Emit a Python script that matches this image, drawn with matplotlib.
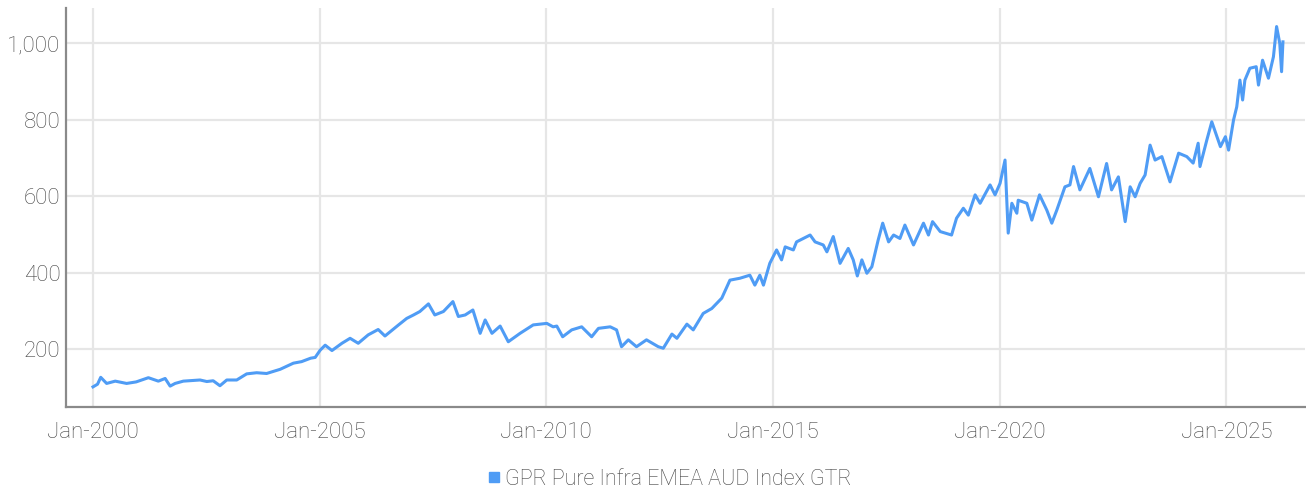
import matplotlib
matplotlib.use("Agg")
import matplotlib.pyplot as plt
import matplotlib.dates as mdates
from matplotlib.lines import Line2D
from matplotlib.ticker import FuncFormatter
import pandas as pd
import numpy as np

# ---- data (decimal year, index level) ----
years = [
    2000.00, 2000.10, 2000.17, 2000.30, 2000.49, 2000.74, 2000.95, 2001.05, 2001.22, 2001.44,
    2001.59, 2001.70, 2001.81, 2001.99, 2002.36, 2002.51, 2002.65, 2002.80, 2002.95, 2003.17,
    2003.39, 2003.61, 2003.83, 2004.13, 2004.42, 2004.60, 2004.80, 2004.90, 2005.01, 2005.12,
    2005.27, 2005.49, 2005.67, 2005.85, 2006.07, 2006.29, 2006.44, 2006.74, 2006.92, 2007.07,
    2007.21, 2007.40, 2007.54, 2007.73, 2007.94, 2008.06, 2008.21, 2008.38, 2008.54, 2008.65,
    2008.80, 2008.98, 2009.16, 2009.42, 2009.71, 2010.01, 2010.15, 2010.23, 2010.36, 2010.56,
    2010.78, 2011.00, 2011.15, 2011.41, 2011.55, 2011.66, 2011.81, 2011.99, 2012.21, 2012.47,
    2012.58, 2012.77, 2012.88, 2013.10, 2013.24, 2013.46, 2013.65, 2013.87, 2014.05, 2014.27,
    2014.49, 2014.60, 2014.71, 2014.79, 2014.93, 2015.08, 2015.19, 2015.27, 2015.45, 2015.52,
    2015.82, 2015.93, 2016.11, 2016.19, 2016.33, 2016.48, 2016.66, 2016.77, 2016.86, 2016.96,
    2017.07, 2017.18, 2017.32, 2017.42, 2017.55, 2017.66, 2017.80, 2017.91, 2018.10, 2018.32,
    2018.43, 2018.52, 2018.69, 2018.94, 2019.05, 2019.20, 2019.31, 2019.46, 2019.57, 2019.79,
    2019.90, 2020.01, 2020.12, 2020.19, 2020.27, 2020.38, 2020.41, 2020.60, 2020.71, 2020.88,
    2021.04, 2021.15, 2021.26, 2021.44, 2021.55, 2021.63, 2021.77, 2021.99, 2022.18, 2022.36,
    2022.47, 2022.62, 2022.77, 2022.88, 2022.99, 2023.10, 2023.21, 2023.32, 2023.43, 2023.58,
    2023.76, 2023.95, 2024.13, 2024.27, 2024.38, 2024.42, 2024.57, 2024.68, 2024.87, 2024.98,
    2025.05, 2025.16, 2025.23, 2025.30, 2025.36, 2025.41, 2025.52, 2025.66, 2025.71, 2025.80,
    2025.93, 2026.04, 2026.11, 2026.18, 2026.22, 2026.25,
]
values = [
    101, 108, 126, 110, 116, 110, 114, 118, 125, 116,
    123, 103, 110, 116, 119, 115, 117, 104, 119, 119,
    135, 138, 136, 147, 163, 167, 176, 178, 197, 210,
    196, 215, 228, 215, 237, 251, 234, 263, 280, 289,
    298, 318, 289, 298, 324, 285, 289, 302, 241, 276,
    241, 260, 219, 241, 263, 267, 258, 260, 232, 250,
    258, 232, 254, 258, 250, 206, 224, 206, 224, 206,
    202, 239, 228, 265, 250, 293, 306, 333, 380, 385,
    393, 367, 393, 367, 424, 459, 433, 467, 459, 480,
    498, 480, 472, 454, 494, 424, 463, 433, 391, 433,
    398, 415, 485, 529, 480, 498, 489, 524, 472, 529,
    498, 533, 507, 498, 542, 568, 550, 603, 581, 629,
    603, 633, 694, 503, 581, 555, 589, 581, 537, 603,
    563, 529, 563, 624, 629, 677, 616, 672, 598, 685,
    616, 650, 533, 624, 598, 633, 655, 733, 694, 703,
    637, 712, 703, 686, 738, 677, 746, 794, 729, 755,
    720, 799, 833, 903, 851, 903, 934, 938, 890, 955,
    908, 964, 1043, 999, 925, 1003,
]
series_name = "GPR Pure Infra EMEA AUD Index GTR"
tick_years = [2000, 2005, 2010, 2015, 2020, 2025]
y_ticks = [200, 400, 600, 800, 1000]


def to_date(y):
    yr = int(np.floor(y))
    start = pd.Timestamp(year=yr, month=1, day=1)
    end = pd.Timestamp(year=yr + 1, month=1, day=1)
    return start + (end - start) * (y - yr)


dates = [to_date(y) for y in years]

plt.rcParams['font.family'] = ['Roboto', 'DejaVu Sans']
plt.rcParams['font.weight'] = 'light'
text_color = '#444444'
line_color = '#4f9cf5'
grid_color = '#e6e6e6'
spine_color = '#8a8a8a'

fig = plt.figure(figsize=(13.06, 4.93), dpi=100)
ax = fig.add_axes([66 / 1306, 86 / 493, (1305 - 66) / 1306, (407 - 8) / 493])

ax.plot(dates, values, color=line_color, linewidth=2.2, solid_joinstyle='round')

ax.set_xlim(to_date(1999.404), to_date(2026.737))
ax.set_ylim(48.4, 1091.5)

ax.set_xticks([pd.Timestamp(year=y, month=1, day=1) for y in tick_years])
ax.xaxis.set_major_formatter(mdates.DateFormatter('%b-%Y'))
ax.set_yticks(y_ticks)
ax.yaxis.set_major_formatter(FuncFormatter(lambda v, p: f"{int(v):,}"))

ax.grid(True, color=grid_color, linewidth=1.6)
ax.set_axisbelow(True)
ax.tick_params(axis='both', length=0, labelsize=16, labelcolor=text_color)
ax.tick_params(axis='x', pad=11)
ax.tick_params(axis='y', pad=4)

for s in ['top', 'right']:
    ax.spines[s].set_visible(False)
for s in ['left', 'bottom']:
    ax.spines[s].set_color(spine_color)
    ax.spines[s].set_linewidth(1.6)

handle = Line2D([], [], color=line_color, marker='s', linestyle='none', markersize=7)
fig.legend([handle], [series_name], loc='center', bbox_to_anchor=(0.512, 0.028),
           frameon=False, fontsize=15.5, labelcolor=text_color, handletextpad=0.1,
           handlelength=0.8)

fig.savefig('out.png', dpi=100)
